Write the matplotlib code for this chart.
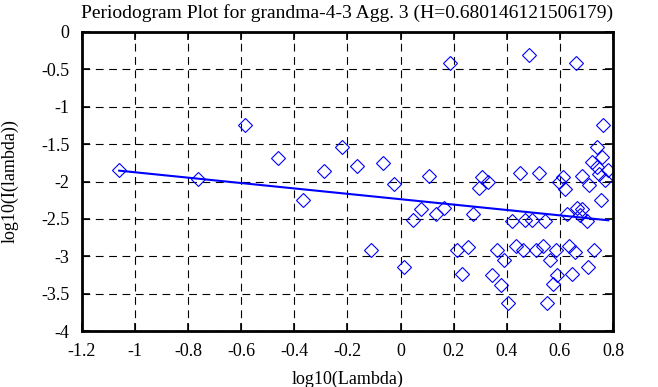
import matplotlib
matplotlib.use('Agg')
import matplotlib.pyplot as plt
from matplotlib.ticker import FuncFormatter
import numpy as np

# periodogram points (log10 lambda, log10 I)
log_lambda = [-1.06, -0.762, -0.586, -0.461, -0.366, -0.287, -0.221, -0.163, -0.113, -0.065,
              -0.025, 0.013, 0.046, 0.078, 0.108, 0.132, 0.162, 0.187, 0.211, 0.230,
              0.255, 0.274, 0.295, 0.308, 0.330, 0.345, 0.362, 0.377, 0.391, 0.406,
              0.418, 0.435, 0.450, 0.460, 0.469, 0.485, 0.494, 0.510, 0.521, 0.535,
              0.544, 0.553, 0.563, 0.575, 0.585, 0.590, 0.598, 0.611, 0.619, 0.625,
              0.635, 0.644, 0.657, 0.661, 0.663, 0.675, 0.682, 0.684, 0.701, 0.707,
              0.711, 0.720, 0.728, 0.739, 0.739, 0.749, 0.755, 0.760, 0.763, 0.770,
              0.782]
log_power = [-1.84, -1.97, -1.24, -1.69, -2.25, -1.86, -1.54, -1.79, -2.92, -1.75,
             -2.04, -3.15, -2.52, -2.37, -1.93, -2.44, -2.35, -0.41, -2.92, -3.24,
             -2.87, -2.43, -2.09, -1.94, -2.01, -3.25, -2.91, -3.38, -3.05, -3.62,
             -2.53, -2.86, -1.88, -2.92, -2.52, -0.31, -2.51, -2.92, -1.88, -2.86,
             -2.53, -3.62, -3.05, -3.37, -2.91, -3.25, -2.00, -1.94, -2.10, -2.44,
             -2.86, -3.24, -2.94, -0.41, -2.35, -2.45, -2.37, -1.93, -2.53, -3.15,
             -2.05, -1.735, -2.92, -1.54, -1.80, -1.90, -2.25, -1.67, -1.24, -1.98,
             -1.84]

H = 0.680146121506179
intercept = -2.237
slope = 1 - 2 * H

xticks = [-1.2, -1, -0.8, -0.6, -0.4, -0.2, 0, 0.2, 0.4, 0.6, 0.8]
yticks = [0, -0.5, -1, -1.5, -2, -2.5, -3, -3.5, -4]

plt.rcParams['font.family'] = ['Liberation Serif', 'DejaVu Serif']
plt.rcParams['axes.unicode_minus'] = False

fig = plt.figure(figsize=(6.58, 3.87), dpi=100, facecolor='white')
ax = fig.add_axes([82 / 658, 1 - 331 / 387, 531 / 658, 299 / 387])

ax.plot(log_lambda, log_power, linestyle='none', marker='D', markersize=7,
        markerfacecolor='none', markeredgecolor='#0000ff', markeredgewidth=0.8)

xl = np.array([min(log_lambda), max(log_lambda)])
ax.plot(xl, intercept + slope * xl, color='#0000ff', linewidth=1.5)

ax.set_xlim(-1.2, 0.8)
ax.set_ylim(-4, 0)
ax.set_xticks(xticks)
ax.set_yticks(yticks)
fmt = FuncFormatter(lambda v, p: '%g' % v)
ax.xaxis.set_major_formatter(fmt)
ax.yaxis.set_major_formatter(fmt)

ax.grid(True, color='black', linewidth=0.8, linestyle=(0, (7, 5)))
ax.tick_params(direction='in', length=6, width=1.2, top=True, right=True,
               labelsize=13, pad=9)
for s in ax.spines.values():
    s.set_linewidth(2)

ax.set_title('Periodogram Plot for grandma-4-3 Agg. 3 (H=%s)' % repr(H),
             fontsize=14, pad=10)
ax.set_xlabel('log10(Lambda)', fontsize=13, labelpad=7)
ax.set_ylabel('log10(I(lambda))', fontsize=13, labelpad=16)

fig.savefig('out.png', dpi=100)
